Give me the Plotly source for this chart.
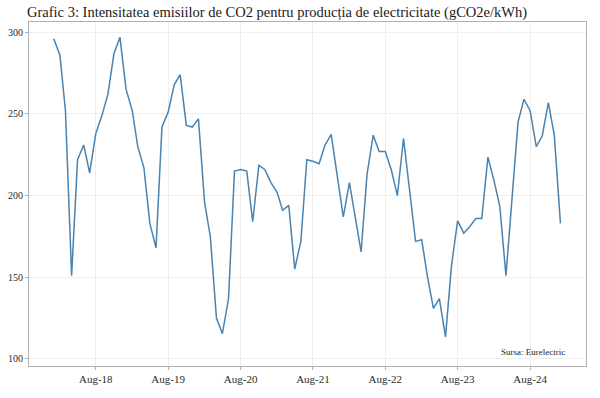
import plotly.graph_objects as go
import pandas as pd

dates = pd.date_range("2018-01-01", "2025-01-01", freq="MS")
values = [
    296, 286, 252, 151, 222, 231, 214, 238, 249, 262, 287, 297,
    265, 252, 230, 217, 183, 168, 242, 251, 268, 274, 243, 242,
    247, 196, 175, 125, 115.5, 137, 215, 216, 215, 184, 218.5, 216,
    208, 202, 191, 194, 155, 172, 222, 221, 219.5, 231, 237.5, 212,
    187, 208, 188, 165.5, 213, 237, 227, 227, 215.5, 200, 235, 204,
    172, 173, 151, 131, 137, 113.5, 157, 184.5, 177, 181, 186, 186,
    223.6, 209, 193.5, 151, 197, 245, 259, 252, 230, 236.5, 257, 237,
    183,
]
tick_dates = pd.to_datetime(["2018-08-01", "2019-08-01", "2020-08-01", "2021-08-01",
                             "2022-08-01", "2023-08-01", "2024-08-01"])
y_ticks = [100, 150, 200, 250, 300]
title = "Grafic 3: Intensitatea emisiilor de CO2 pentru producția de electricitate (gCO2e/kWh)"
source = "Sursa: Eurelectric"

fig = go.Figure()
fig.add_trace(go.Scatter(x=dates, y=values, mode="lines",
                         line=dict(color="#4a83b0", width=1.5),
                         hoverinfo="skip"))

serif = "Liberation Serif, Times New Roman, serif"
fig.update_layout(
    width=600, height=398,
    margin=dict(l=29, r=14, t=22, b=32, autoexpand=False),
    paper_bgcolor="white", plot_bgcolor="white",
    showlegend=False,
    title=dict(text=title, x=27/600, xanchor="left", xref="container",
               y=1-12/398, yanchor="middle", yref="container",
               font=dict(family=serif, size=14.5, color="#1a1a1a")),
    font=dict(family=serif, color="#333333"),
)
fig.update_xaxes(
    range=["2017-08-29", "2025-05-10"],
    tickvals=tick_dates, tickformat="%b-%y",
    showgrid=True, gridcolor="#eeeeee", gridwidth=1,
    showline=True, linecolor="#b0b0b0", linewidth=1, mirror=True,
    ticks="outside", ticklen=3, tickcolor="#b0b0b0",
    tickfont=dict(family=serif, size=11, color="#2a2a2a"),
    zeroline=False, automargin=False,
)
fig.update_yaxes(
    range=[95.7, 306.3],
    tickvals=y_ticks,
    showgrid=True, gridcolor="#eeeeee", gridwidth=1,
    showline=True, linecolor="#b0b0b0", linewidth=1, mirror=True,
    ticks="outside", ticklen=3, tickcolor="#b0b0b0",
    tickfont=dict(family=serif, size=10, color="#2a2a2a"),
    zeroline=False, automargin=False,
)
fig.add_annotation(text=source, xref="paper", yref="paper", x=(567-29)/557, y=(366-352)/344,
                   xanchor="right", yanchor="middle", showarrow=False,
                   font=dict(family=serif, size=9, color="#222222"))

fig.write_html("out.html", config={"displayModeBar": False, "staticPlot": True},
               post_script="document.body.style.margin='0';document.body.style.padding='0';")
